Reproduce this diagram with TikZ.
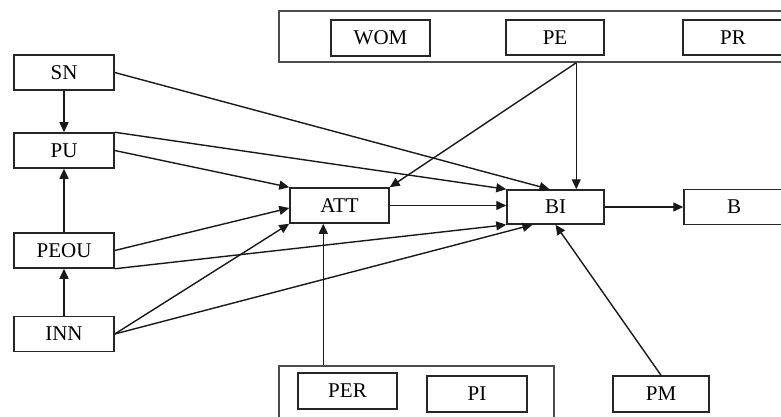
\documentclass[tikz,border=0pt]{standalone}
\usepackage{fontspec}
\setmainfont{Liberation Serif}
\usetikzlibrary{arrows.meta,calc}
\begin{document}
\begin{tikzpicture}[x=1pt,y=-1pt,
  box/.style={draw=black!85,line width=1.5pt,minimum height=35pt,inner sep=0pt,
    font=\fontsize{21}{25}\selectfont},
  grp/.style={draw=black!70,line width=1.5pt,inner sep=0pt},
  arr/.style={draw=black!90,line width=1.4pt,-{Triangle[length=10pt,width=9pt]}},
  ln/.style={draw=black!90,line width=1.4pt}]
\useasboundingbox (0,0) rectangle (781,417);
% groups
\node[grp,minimum width=521pt,minimum height=51pt] (topgrp) at (539.5,36.5) {};
\node[grp,minimum width=275pt,minimum height=64pt] (botgrp) at (416.5,398) {};
% boxes
\node[box,minimum width=100pt] (SN) at (64,72.5) {SN};
\node[box,minimum width=100pt] (PU) at (64,150.5) {PU};
\node[box,minimum width=100pt] (PEOU) at (64,250.5) {PEOU};
\node[box,minimum width=100pt] (INN) at (64,334) {INN};
\node[box,minimum width=99pt] (ATT) at (339.5,205.5) {ATT};
\node[box,minimum width=97pt,minimum height=34pt] (BI) at (555.5,207) {BI};
\node[box,minimum width=100pt] (B) at (734,207) {B};
\node[box,minimum width=99pt,minimum height=36pt] (WOM) at (380.5,38) {WOM};
\node[box,minimum width=98pt] (PE) at (555,37.5) {PE};
\node[box,minimum width=100pt] (PR) at (733,37.5) {PR};
\node[box,minimum width=99pt,minimum height=36pt] (PER) at (347.5,391) {PER};
\node[box,minimum width=100pt,minimum height=36pt] (PI) at (477,394) {PI};
\node[box,minimum width=96pt,minimum height=36pt] (PM) at (661,394) {PM};
% source points on group boxes
\coordinate (topsrc) at ($(topgrp.south west)+(298,0)$);
\coordinate (botsrc) at ($(botgrp.north west)+(45,0)$);
% connectors
\draw[arr] (SN.south) -- (PU.north);
\draw[arr] (PEOU.north) -- (PU.south);
\draw[arr] (INN.north) -- (PEOU.south);
\draw[arr] (SN.east) -- ($(BI.north)+(-6,0)$);
\draw[arr] (PU.north east) -- (BI.north west);
\draw[arr] (PU.east) -- (ATT.north west);
\draw[arr] (PEOU.east) -- ($(ATT.west)+(0,2.5)$);
\draw[arr] (PEOU.south east) -- (BI.south west);
\draw[arr] (INN.east) -- (ATT.south west);
\draw[arr] (INN.east) -- ($(BI.south)+(-23,0)$);
\draw[arr] (topsrc) -- (ATT.north east);
\draw[arr] (topsrc) -- (topsrc |- BI.north);
\draw[arr] (botsrc) -- (botsrc |- ATT.south);
\draw[arr] (PM.north) -- (BI.south);
\draw[arr] (ATT.east) -- (ATT.east -| BI.west);
\draw[arr] (BI.east) -- (B.west);
\end{tikzpicture}
\end{document}
